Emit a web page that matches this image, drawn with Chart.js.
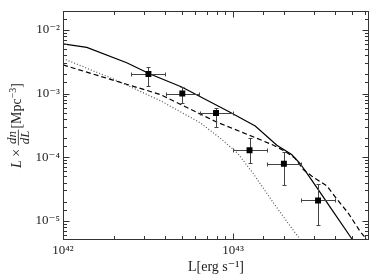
<!DOCTYPE html>
<html><head><meta charset="utf-8">
<script src="https://cdn.jsdelivr.net/npm/chart.js@4.4.0/dist/chart.umd.min.js"></script>
<style>html,body{margin:0;padding:0;background:#fff}#wrap{width:374px;height:280px}</style>
</head><body><div id="wrap"><canvas id="c" width="374" height="280"></canvas></div>
<script>
// Observed points with error ranges
const obsL     = [3.18e42, 5.03e42, 7.94e42, 1.25e43, 1.99e43, 3.16e43];
const obsPhi   = [2.03e-3, 1.00e-3, 4.96e-4, 1.29e-4, 7.87e-5, 2.09e-5];
const obsLlo   = [2.52e42, 4.02e42, 6.40e42, 1.00e43, 1.58e43, 2.52e43];
const obsLhi   = [3.98e42, 6.30e42, 1.00e43, 1.58e43, 2.52e43, 4.00e43];
const obsPhiLo = [1.32e-3, 7.06e-4, 3.03e-4, 8.00e-5, 3.66e-5, 8.65e-6];
const obsPhiHi = [2.66e-3, 1.27e-3, 5.90e-4, 2.00e-4, 1.21e-4, 3.84e-5];
// Model curves
const solidL   = [1e42, 1.38e42, 2.37e42, 3.25e42, 4.99e42, 9.6e42, 1.35e43, 1.81e43, 2.21e43, 2.48e43, 2.84e43, 3.25e43, 3.89e43, 4.99e43, 5.1e43];
const solidPhi = [6.04e-3, 5.31e-3, 3.06e-3, 2.03e-3, 1.27e-3, 5.08e-4, 3.10e-4, 1.54e-4, 1.10e-4, 7.96e-5, 4.74e-5, 2.80e-5, 1.38e-5, 5.24e-6, 4.6e-6];
const dashL    = [1e42, 3.73e42, 7.94e42, 1.36e43, 1.73e43, 2.02e43, 2.32e43, 2.59e43, 2.91e43, 3.56e43, 4.07e43, 4.77e43, 5.58e43, 6.11e43];
const dashPhi  = [2.82e-3, 9.68e-4, 3.61e-4, 2.02e-4, 1.54e-4, 1.24e-4, 9.6e-5, 6.37e-5, 5.03e-5, 3.54e-5, 2.22e-5, 1.31e-5, 6.84e-6, 5.1e-6];
const dotL     = [1e42, 1.97e42, 3.73e42, 6.4e42, 8.4e42, 1.06e43, 1.31e43, 1.72e43, 2.08e43, 2.48e43];
const dotPhi   = [3.56e-3, 1.70e-3, 7.76e-4, 3.49e-4, 1.99e-4, 1.17e-4, 5.6e-5, 1.95e-5, 9.6e-6, 5.1e-6];
// Tick labels
const xTickExps = [42, 43];
const xTickLabels = ['10⁴²', '10⁴³'];
const yTickExps = [-2, -3, -4, -5];
const yTickLabels = ['10⁻²', '10⁻³', '10⁻⁴', '10⁻⁵'];

const SERIF = "'Liberation Serif', 'DejaVu Serif', serif";
const INK = '#222';

function labelFor(v, exps, labels) {
  const e = Math.log10(v), r = Math.round(e);
  if (Math.abs(e - r) < 1e-6) { const i = exps.indexOf(r); if (i >= 0) return labels[i]; }
  return '';
}
function pts(xs, ys) { return xs.map((x, i) => ({x: x, y: ys[i]})); }

function drawErrorBars(chart) {
  const ctx = chart.ctx, xs = chart.scales.x, ys = chart.scales.y;
  const cap = 2;
  ctx.save();
  ctx.strokeStyle = '#444'; ctx.lineWidth = 1;
  for (let i = 0; i < obsL.length; i++) {
    const px = Math.round(xs.getPixelForValue(obsL[i])) + 0.5;
    const py = Math.round(ys.getPixelForValue(obsPhi[i])) + 0.5;
    const x0 = Math.round(xs.getPixelForValue(obsLlo[i])) + 0.5;
    const x1 = Math.round(xs.getPixelForValue(obsLhi[i])) + 0.5;
    const y0 = Math.round(ys.getPixelForValue(obsPhiHi[i])) + 0.5;
    const y1 = Math.round(ys.getPixelForValue(obsPhiLo[i])) + 0.5;
    ctx.beginPath();
    ctx.moveTo(x0, py); ctx.lineTo(x1, py);
    ctx.moveTo(x0, py - cap); ctx.lineTo(x0, py + cap);
    ctx.moveTo(x1, py - cap); ctx.lineTo(x1, py + cap);
    ctx.moveTo(px, y0); ctx.lineTo(px, y1);
    ctx.moveTo(px - cap, y0); ctx.lineTo(px + cap, y0);
    ctx.moveTo(px - cap, y1); ctx.lineTo(px + cap, y1);
    ctx.stroke();
  }
  ctx.restore();
}

function drawYTitle(chart) {
  const ctx = chart.ctx;
  ctx.save();
  ctx.fillStyle = INK; ctx.strokeStyle = INK;
  ctx.textBaseline = 'alphabetic'; ctx.textAlign = 'left';
  const fMain = "14px " + SERIF, fIt = "italic 14px " + SERIF, fFrac = "italic 13px " + SERIF, fSup = "10px " + SERIF;
  ctx.font = fIt; const wL = ctx.measureText('L').width;
  ctx.font = fMain; const wX = ctx.measureText(' × ').width;
  ctx.font = fFrac; const wN = ctx.measureText('dn').width, wD = ctx.measureText('dL').width;
  const wF = Math.max(wN, wD) + 2;
  ctx.font = fMain; const wB = ctx.measureText('[Mpc').width, wE = ctx.measureText(']').width;
  ctx.font = fSup; const wS = ctx.measureText('−3').width;
  const total = wL + wX + wF + wB + wS + wE;
  const cx = 21, cy = 126;
  ctx.translate(cx, cy); ctx.rotate(-Math.PI / 2);
  let u = -total / 2;
  ctx.font = fIt; ctx.fillText('L', u, 0); u += wL;
  ctx.font = fMain; ctx.fillText(' × ', u, 0); u += wX;
  ctx.font = fFrac;
  ctx.fillText('dn', u + (wF - wN) / 2, -5.5);
  ctx.fillText('dL', u + (wF - wD) / 2, 8);
  ctx.lineWidth = 0.8; ctx.beginPath(); ctx.moveTo(u, -2.6); ctx.lineTo(u + wF, -2.6); ctx.stroke();
  u += wF + 1;
  ctx.font = fMain; ctx.fillText('[Mpc', u, 0); u += wB;
  ctx.font = fSup; ctx.fillText('−3', u, -5.5); u += wS;
  ctx.font = fMain; ctx.fillText(']', u, 0);
  ctx.restore();
}

const framePlugin = {
  id: 'frame',
  beforeDatasetDraw(chart, args) { if (args.index === 0) drawErrorBars(chart); },
  afterDraw(chart) {
    const ctx = chart.ctx, a = chart.chartArea;
    const L = Math.round(a.left) + 0.5, R = Math.round(a.right) - 0.5, T = Math.round(a.top) + 0.5, B = Math.round(a.bottom) - 0.5;
    ctx.save();
    ctx.strokeStyle = '#333'; ctx.lineWidth = 1;
    ctx.strokeRect(L, T, R - L, B - T);
    ctx.beginPath();
    chart.scales.x.ticks.forEach(t => {
      const major = labelFor(t.value, xTickExps, xTickLabels) !== '';
      const len = major ? 6 : 3.5;
      const p = Math.round(chart.scales.x.getPixelForValue(t.value)) + 0.5;
      if (p < L || p > R) return;
      ctx.moveTo(p, B); ctx.lineTo(p, B - len);
      ctx.moveTo(p, T); ctx.lineTo(p, T + len);
    });
    chart.scales.y.ticks.forEach(t => {
      const major = labelFor(t.value, yTickExps, yTickLabels) !== '';
      const len = major ? 6 : 3.5;
      const p = Math.round(chart.scales.y.getPixelForValue(t.value)) + 0.5;
      if (p < T || p > B) return;
      ctx.moveTo(L, p); ctx.lineTo(L + len, p);
      ctx.moveTo(R, p); ctx.lineTo(R - len, p);
    });
    ctx.stroke();
    ctx.restore();
    drawYTitle(chart);
  }
};

const tickFont = {family: SERIF, size: 13};

new Chart(document.getElementById('c'), {
  type: 'scatter',
  data: {datasets: [
    {label: 'observed', data: pts(obsL, obsPhi), pointStyle: 'rect', pointRadius: 4.2, backgroundColor: '#000', borderColor: '#000', borderWidth: 0, showLine: false},
    {label: 'model A', data: pts(solidL, solidPhi), showLine: true, borderColor: '#000', borderWidth: 1.2, pointRadius: 0, fill: false},
    {label: 'model B', data: pts(dashL, dashPhi), showLine: true, borderColor: '#000', borderWidth: 1.2, borderDash: [5, 3], pointRadius: 0, fill: false},
    {label: 'model C', data: pts(dotL, dotPhi), showLine: true, borderColor: '#555', borderWidth: 1.2, borderDash: [1, 2], pointRadius: 0, fill: false}
  ]},
  options: {
    responsive: false, animation: false, devicePixelRatio: 1,
    layout: {padding: {top: 5, right: 5, left: 0, bottom: 0}},
    plugins: {legend: {display: false}, tooltip: {enabled: false}},
    scales: {
      x: {
        type: 'logarithmic', min: 1e42, max: 6.3e43,
        grid: {display: false, drawTicks: false}, border: {display: false},
        ticks: {autoSkip: false, maxRotation: 0, minRotation: 0, padding: 3, font: tickFont, color: INK,
          callback: v => labelFor(v, xTickExps, xTickLabels)},
        title: {display: true, text: 'L[erg s⁻¹]', font: {family: SERIF, size: 14}, color: INK, padding: {top: 0, bottom: 4}},
        afterFit(s) { s.height = 40; }
      },
      y: {
        type: 'logarithmic', min: 5e-6, max: 2e-2,
        grid: {display: false, drawTicks: false}, border: {display: false},
        ticks: {autoSkip: false, padding: 3, font: tickFont, color: INK,
          callback: v => labelFor(v, yTickExps, yTickLabels)},
        afterFit(s) { s.width = 63; }
      }
    }
  },
  plugins: [framePlugin]
});
</script>
</body></html>
